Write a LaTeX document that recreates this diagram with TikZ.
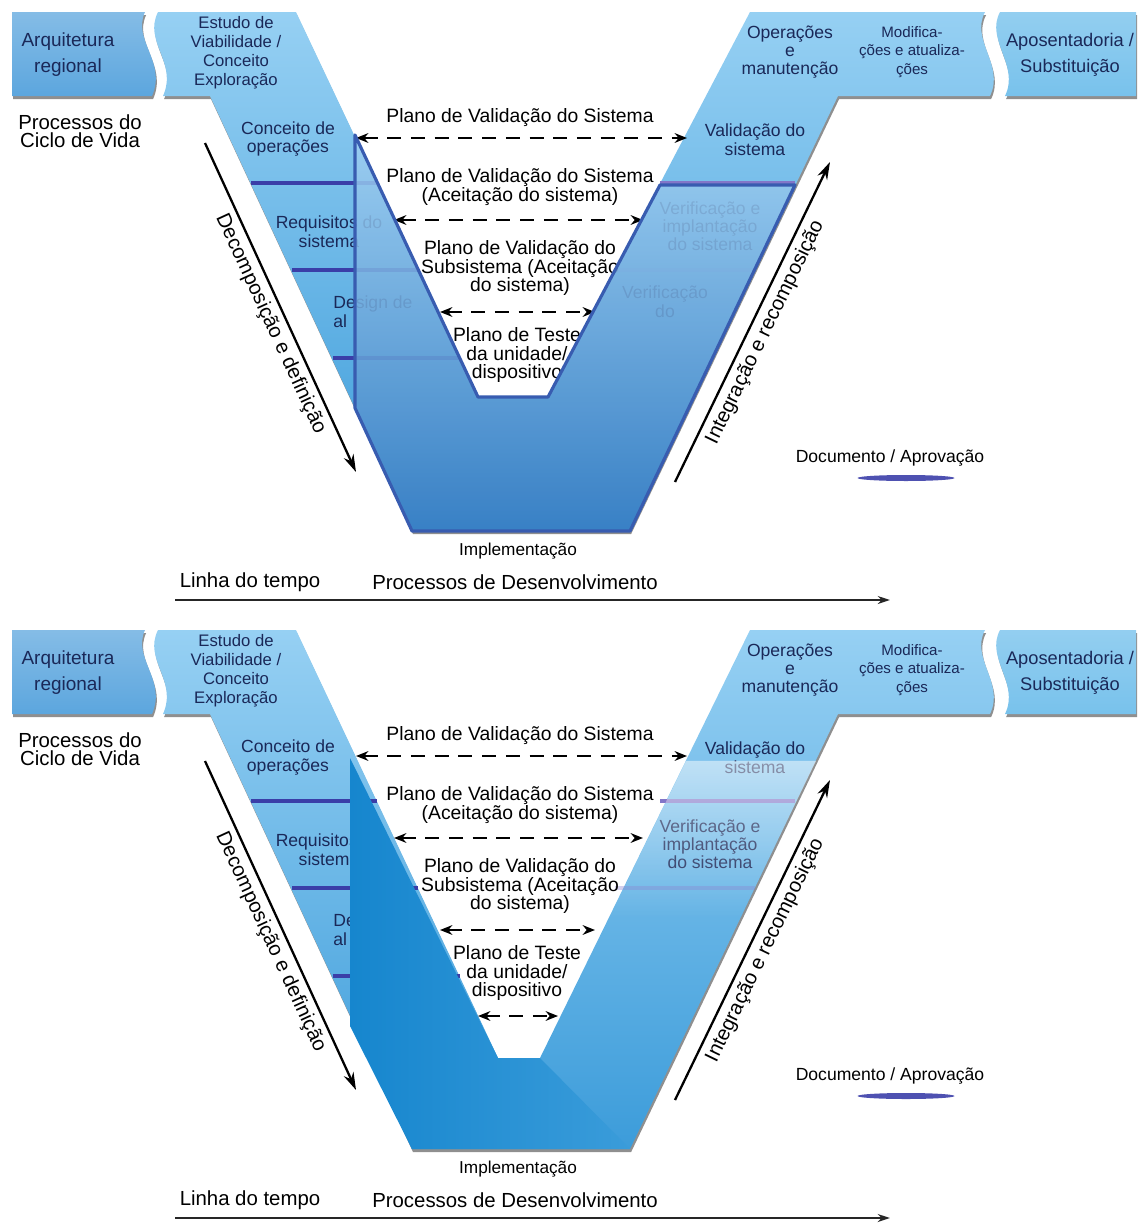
\documentclass[tikz,border=0pt]{standalone}
\usepackage{fontspec}
\setmainfont{Liberation Sans}
\usepackage{tikz}
\usetikzlibrary{arrows.meta,positioning,shadows,calc,fadings}

\definecolor{navytxt}{RGB}{26,40,88}
\definecolor{bandtop}{RGB}{150,208,243}
\definecolor{bandbot}{RGB}{60,156,218}
\definecolor{arqblue}{RGB}{92,166,222}
\definecolor{apoblue}{RGB}{120,194,236}
\definecolor{docblue}{RGB}{58,62,168}
\definecolor{docpale}{RGB}{130,118,200}
\definecolor{frontline}{RGB}{56,92,176}
\definecolor{fronttop}{RGB}{160,208,242}
\definecolor{frontbot}{RGB}{56,124,194}
\definecolor{deepblue}{RGB}{22,134,206}
\definecolor{deepright}{RGB}{58,156,218}

\tikzset{
  shadowed/.style={drop shadow={shadow xshift=0.6pt,shadow yshift=-1.8pt,opacity=0.55,fill=black!80}},
  bandtxt/.style={align=center,text=navytxt,inner sep=0pt,font=\fontsize{10}{10.8}\selectfont},
  boxtxt/.style={bandtxt,font=\fontsize{10.8}{14.8}\selectfont},
  plantxt/.style={align=center,inner sep=0pt,font=\fontsize{11}{10.8}\selectfont},
  sidetxt/.style={align=center,inner sep=0pt,font=\fontsize{11.6}{10.4}\selectfont},
  smalltxt/.style={inner sep=0pt,font=\fontsize{9.8}{11}\selectfont},
  docln/.style={line width=2.4pt,draw=docblue},
  planarr/.style={{Stealth[length=7pt,width=5.5pt]}-{Stealth[length=7pt,width=5.5pt]},line width=1.3pt,dash pattern=on 8pt off 5.5pt},
  flowarr/.style={-{Stealth[length=10pt,width=6pt]},line width=1.3pt},
  timearr/.style={-{Stealth[length=7pt,width=4.5pt]},line width=1.1pt,draw=black!85}
}

% parte comum de cada painel: #1 sufixo, #2/#3 fundo interno do V
\newcommand{\vmodel}[3]{%
  \shade[shadowed,top color=arqblue!75!white,bottom color=arqblue]
    (12,12) -- (145,12) .. controls (132,40) and (167,62) .. (152,96) -- (12,96) -- cycle;
  \shade[shadowed,top color=bandtop,bottom color=bandbot]
    (158,12) -- (296,12) -- (#2) -- (#3) -- (750,12) -- (985,12)
    .. controls (970,40) and (1005,65) .. (990,96) -- (838,96) -- (630,531)
    -- (412,531) -- (210,96) -- (163,96) .. controls (178,62) and (143,42) .. (158,12) -- cycle;
  \shade[shadowed,top color=apoblue!80!white,bottom color=apoblue]
    (1000,12) -- (1136,12) -- (1136,96) -- (1005,96) .. controls (1020,65) and (985,40) .. (1000,12) -- cycle;
  % documentos / aprovacoes
  \draw[docln] (251,183) -- (377,183);
  \draw[docln] (292,270) -- (418,270);
  \draw[docln] (333,358) -- (460,358);
  \draw[docln,draw=docpale] (660,183) -- (795,183);
  \draw[docln,draw=docpale,opacity=0.35] (615,270) -- (755,270);

  \node[boxtxt] (arq#1) at (68,55) {Arquitetura\\regional};
  \node[bandtxt,font=\fontsize{9.5}{10.8}\selectfont] (est#1) at (236,53) {Estudo de\\Viabilidade /\\Conceito\\Exploração};
  \node[bandtxt] (conc#1) at (288,139) {Conceito de\\operações};
  \node[bandtxt] (req#1) at (329,232) {Requisitos do\\sistema};
  \node[bandtxt,align=left,anchor=west] (des#1) at (333,312) {Design de\\al};
  \node[bandtxt] (val#1) at (755,140) {Validação do\\sistema};
  \node[bandtxt,font=\fontsize{10}{9.2}\selectfont] (ver#1) at (710,226) {Verificação e\\implantação\\do sistema};
  \node[bandtxt,font=\fontsize{10}{10.4}\selectfont] (ope#1) at (790,52) {Operações\\e\\manutenção};
  \node[bandtxt,font=\fontsize{8.6}{10.4}\selectfont] (mod#1) at (912,52) {Modifica-\\ções e atualiza-\\ções};
  \node[boxtxt,font=\fontsize{10.4}{14.8}\selectfont] (apo#1) at (1070,55) {Aposentadoria /\\Substituição};

  \node[sidetxt] (ciclo#1) at (80,131) {Processos do\\Ciclo de Vida};

  \node[plantxt] (pl1#1) at (520,118) {Plano de Validação do Sistema};
  \node[plantxt] (pl2#1) at (520,187) {Plano de Validação do Sistema\\(Aceitação do sistema)};
  \node[plantxt] (pl3#1) at (520,268) {Plano de Validação do\\Subsistema (Aceitação\\do sistema)};
  \node[plantxt] (pl4#1) at (517,355) {Plano de Teste\\da unidade/\\dispositivo};

  \coordinate (a1l#1) at (356,138);  \coordinate (a1r#1) at (687,138);
  \coordinate (a2l#1) at (394,220);  \coordinate (a2r#1) at (643,220);
  \coordinate (a3l#1) at (440,312);  \coordinate (a3r#1) at (595,312);
  \draw[planarr] (a1l#1) -- (a1r#1);
  \draw[planarr] (a2l#1) -- (a2r#1);
  \draw[planarr] (a3l#1) -- (a3r#1);

  \coordinate (d0#1) at (205,143);  \coordinate (d1#1) at (356,472);
  \draw[flowarr] (d0#1) -- node[pos=0.53,sloped,below=3pt,sidetxt]{Decomposição e definição} (d1#1);
  \coordinate (i0#1) at (675,482);  \coordinate (i1#1) at (830,162);
  \draw[flowarr] (i0#1) -- node[pos=0.49,sloped,below=3pt,sidetxt]{Integração e recomposição} (i1#1);

  \node[smalltxt] (impl#1) at (518,551) {Implementação};
  \node[smalltxt,font=\fontsize{10}{11}\selectfont] (doc#1) at (890,458) {Documento / Aprovação};
  \fill[docblue!90!white] (906,478) ellipse [x radius=0.97cm,y radius=0.06cm];

  \node[sidetxt] (linha#1) at (250,582) {Linha do tempo};
  \node[sidetxt] (proc#1) at (515,582) {Processos de Desenvolvimento};
  \coordinate (t0#1) at (175,600);  \coordinate (t1#1) at (890,600);
  \draw[timearr] (t0#1) -- (t1#1);
}

\begin{document}
\begin{tikzpicture}[x=0.02cm,y=-0.02cm]
  \useasboundingbox (0,0) rectangle (1144,1224);

  % painel superior
  \vmodel{a}{478,397}{548,397}
  \node[bandtxt] (verb a) at (665,302) {Verificação\\do};
  \shade[top color=fronttop,bottom color=frontbot,fill opacity=0.86]
    (355,135) -- (355,408) -- (412,531) -- (630,531) -- (795,185) -- (660,185) -- (548,397) -- (478,397) -- cycle;
  \draw[frontline,line width=1.8pt,line join=round]
    (355,135) -- (355,408) -- (412,531) -- (630,531) -- (795,185) -- (660,185) -- (548,397) -- (478,397) -- cycle;

  % painel inferior
  \begin{scope}[shift={(0,618)}]
    \vmodel{b}{498,440}{540,440}
    \fill[white,fill opacity=0.5,path fading=south] (686,143) -- (816,143) -- (740,300) -- (609,300) -- cycle;
    \shade[left color=deepblue,right color=deepright]
      (350,140) -- (350,408) -- (412,531) -- (630,531) -- (540,440) -- (498,440) -- cycle;
    \coordinate (a4lb) at (478,398);  \coordinate (a4rb) at (558,398);
    \draw[planarr] (a4lb) -- (a4rb);
  \end{scope}
\end{tikzpicture}
\end{document}
